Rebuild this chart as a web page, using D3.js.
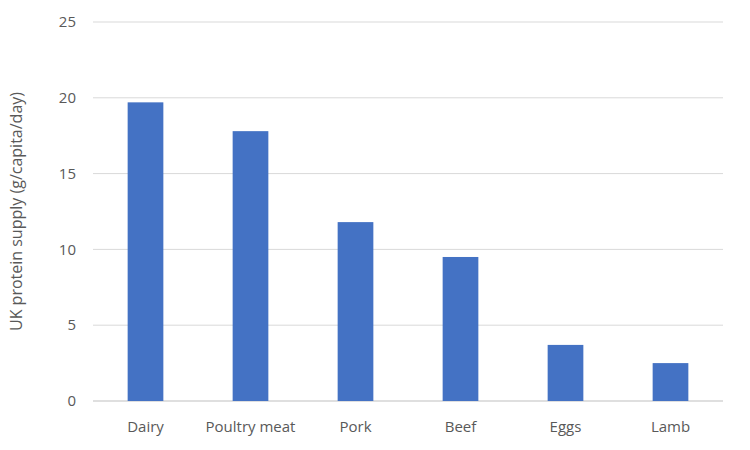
<!DOCTYPE html>
<html><head><meta charset="utf-8">
<script src="https://cdn.jsdelivr.net/npm/d3@7"></script>
<style>body{margin:0;background:#fff}text{font-family:"Open Sans",sans-serif}</style>
</head><body>
<script>
const categories = ["Dairy", "Poultry meat", "Pork", "Beef", "Eggs", "Lamb"];
const values = [19.7, 17.8, 11.8, 9.5, 3.7, 2.5];
const yTicks = [0, 5, 10, 15, 20, 25];

const width = 750, height = 450;
const margin = { top: 22, right: 27, bottom: 49, left: 93 };

const svg = d3.select("body").append("svg").attr("width", width).attr("height", height);

const x = d3.scaleBand().domain(categories).range([margin.left, width - margin.right]);
const y = d3.scaleLinear().domain([0, 25]).range([height - margin.bottom, margin.top]);

// gridlines
svg.append("g").selectAll("line").data(yTicks).enter().append("line")
  .attr("x1", margin.left).attr("x2", width - margin.right)
  .attr("y1", d => y(d)).attr("y2", d => y(d))
  .attr("stroke", d => d === 0 ? "#bfbfbf" : "#d9d9d9").attr("stroke-width", 1);

// y tick labels
svg.append("g").selectAll("text").data(yTicks).enter().append("text")
  .attr("x", margin.left - 17).attr("y", d => y(d)).attr("dy", "0.35em")
  .attr("text-anchor", "end").attr("font-size", 15).attr("fill", "#595959")
  .text(d => d);

// bars
const bw = x.bandwidth() * 0.34;
svg.append("g").selectAll("rect").data(values).enter().append("rect")
  .attr("x", (d, i) => x(categories[i]) + (x.bandwidth() - bw) / 2)
  .attr("y", d => y(d))
  .attr("width", bw)
  .attr("height", d => y(0) - y(d))
  .attr("fill", "#4472C4");

// x labels
svg.append("g").selectAll("text").data(categories).enter().append("text")
  .attr("x", d => x(d) + x.bandwidth() / 2).attr("y", y(0) + 31)
  .attr("text-anchor", "middle").attr("font-size", 15).attr("fill", "#595959")
  .text(d => d);

// y axis title
svg.append("text")
  .attr("transform", `translate(22,${(y(0) + y(25)) / 2}) rotate(-90)`)
  .attr("text-anchor", "middle").attr("font-size", 16).attr("fill", "#595959")
  .text("UK protein supply (g/capita/day)");
</script>
</body></html>
